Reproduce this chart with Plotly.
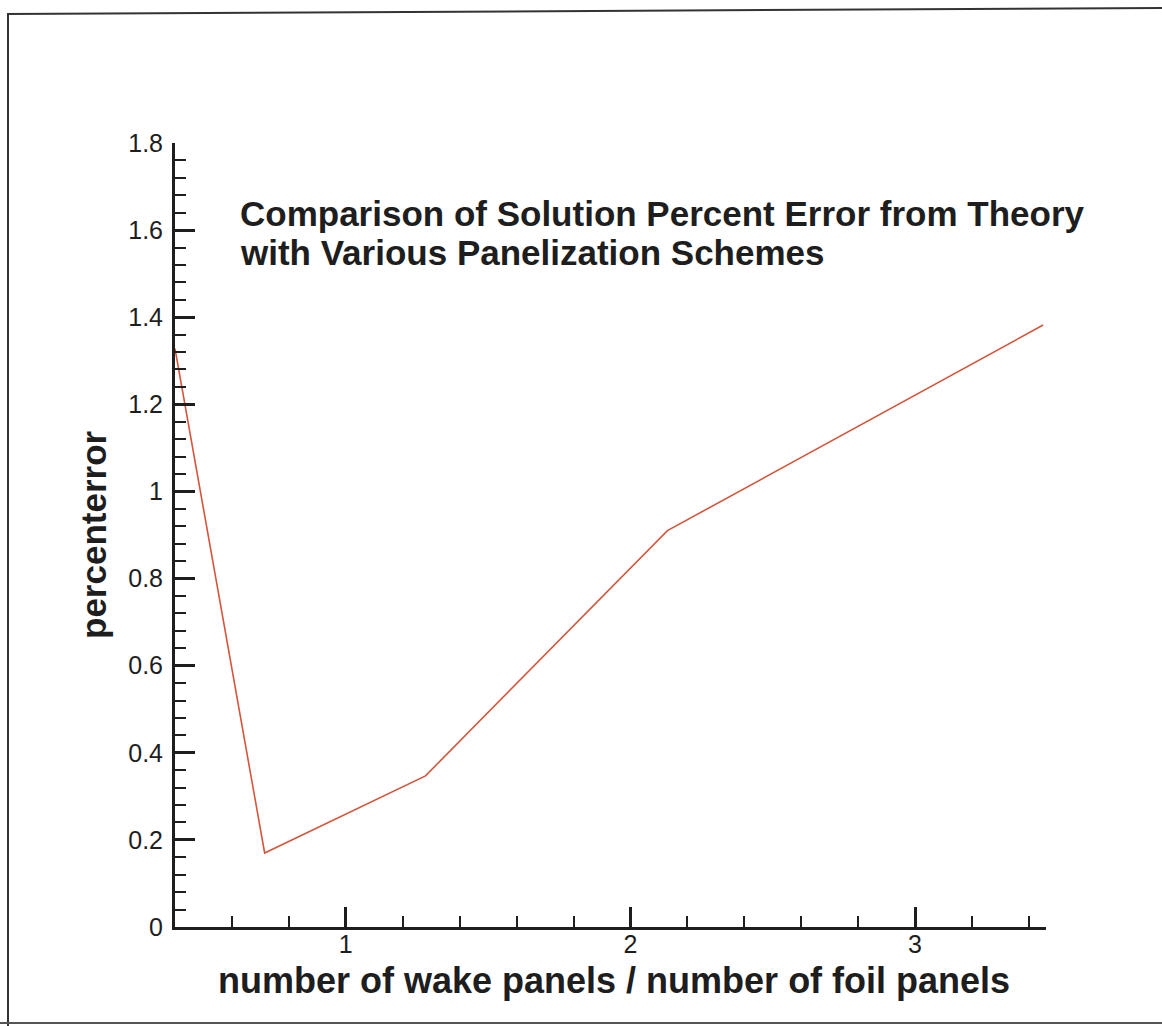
import plotly.graph_objects as go

# Data
ratio = [0.40, 0.715, 1.28, 2.13, 3.45]
percent_error = [1.328, 0.17, 0.347, 0.91, 1.382]

title_lines = ["Comparison of Solution Percent Error from Theory",
               "with Various Panelization Schemes"]
x_title = "number of wake panels / number of foil panels"
y_title = "percenterror"

W, H = 1162, 1026
L, R, T, B = 175, 1046, 143, 927  # plot area pixel box


def px(xp):
    return (xp - L) / (R - L)


def py(yp):
    return (B - yp) / (B - T)


FONT = "Arial, 'Liberation Sans', Helvetica, sans-serif"
INK = "#1e1e1e"

fig = go.Figure()
fig.add_trace(go.Scatter(x=ratio, y=percent_error, mode="lines",
                         line=dict(color="#d4553c", width=1.6),
                         showlegend=False, hoverinfo="skip"))

axis_common = dict(showgrid=False, zeroline=False, showline=True,
                   linecolor=INK, linewidth=3, ticks="inside",
                   tickcolor=INK, ticklen=20, tickwidth=3,
                   tickfont=dict(family=FONT, size=25, color=INK))

fig.update_xaxes(range=[0.4, 3.46], tick0=0, dtick=1, ticklabelstandoff=-7,
                 minor=dict(ticks="inside", ticklen=11, tickwidth=2,
                            tickcolor=INK, tick0=0, dtick=0.2),
                 **axis_common)
fig.update_yaxes(range=[0, 1.8], tick0=0, dtick=0.2, ticklabelstandoff=4,
                 minor=dict(ticks="inside", ticklen=11, tickwidth=2,
                            tickcolor=INK, tick0=0, dtick=0.04),
                 **axis_common)

annotations = []
for i, line in enumerate(title_lines):
    annotations.append(dict(text="<b>%s</b>" % line, xref="paper", yref="paper",
                            x=px(239), y=py(214 + 38 * i), xanchor="left",
                            yanchor="middle", showarrow=False, borderpad=0,
                            font=dict(family=FONT, size=35, color=INK)))

annotations.append(dict(text="<b>%s</b>" % x_title, xref="paper", yref="paper",
                        x=px(614), y=py(981), xanchor="center", yanchor="middle",
                        showarrow=False, font=dict(family=FONT, size=36, color=INK)))
annotations.append(dict(text="<b>%s</b>" % y_title, xref="paper", yref="paper",
                        x=px(93), y=py(535), xanchor="center", yanchor="middle",
                        textangle=-90, showarrow=False,
                        font=dict(family=FONT, size=35, color=INK)))

shapes = [
    dict(type="line", xref="paper", yref="paper", x0=px(8), y0=py(14), x1=px(8), y1=py(1026),
         line=dict(color="#333333", width=2)),
    dict(type="line", xref="paper", yref="paper", x0=px(7), y0=py(14), x1=px(1162), y1=py(8),
         line=dict(color="#333333", width=2)),
    dict(type="line", xref="paper", yref="paper", x0=px(0), y0=py(1023), x1=px(1162), y1=py(1023),
         line=dict(color="#555555", width=2)),
]

fig.update_layout(width=W, height=H, margin=dict(l=L, r=W - R, t=T, b=H - B),
                  paper_bgcolor="white", plot_bgcolor="white",
                  annotations=annotations, shapes=shapes,
                  font=dict(family=FONT, color=INK))

fig.write_html("out.html")
